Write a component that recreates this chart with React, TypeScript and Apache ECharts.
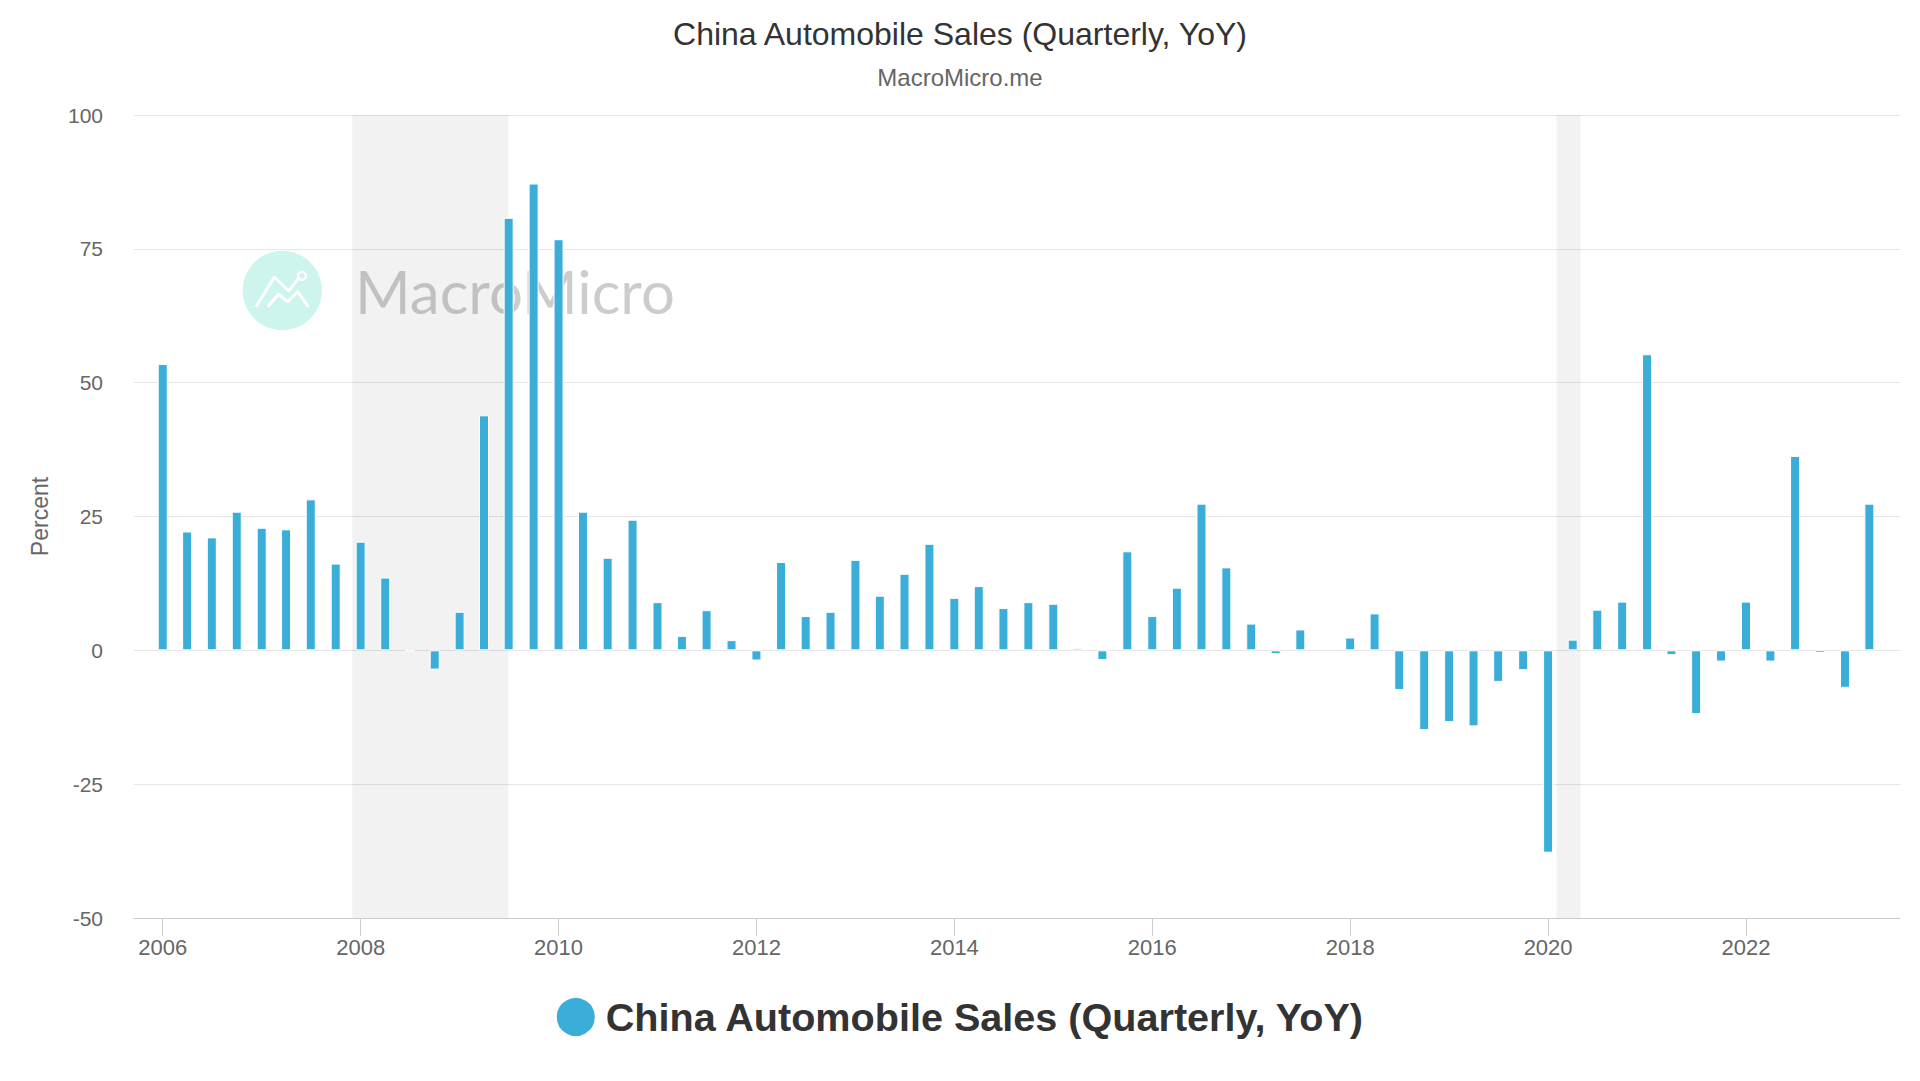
import React, { useEffect, useRef } from "react";
import * as echarts from "echarts";

const TITLE = "China Automobile Sales (Quarterly, YoY)";
const SUBTITLE = "MacroMicro.me";
const SERIES_NAME = "China Automobile Sales (Quarterly, YoY)";
const Y_AXIS_NAME = "Percent";
const WATERMARK = "MacroMicro";

const quarterYears = [2006, 2007, 2008, 2009, 2010, 2011, 2012, 2013, 2014, 2015, 2016, 2017, 2018, 2019, 2020, 2021, 2022, 2023];
const quarterStartMonths = [1, 4, 7, 10];

// YoY %, 2006 Q1 ... 2023 Q2
const yoyValues: (number | null)[] = [
  53.5, 22.2, 21.1, 25.9,
  22.9, 22.6, 28.2, 16.2,
  20.3, 13.6, -0.2, -3.6,
  7.2, 43.9, 80.8, 87.2,
  76.8, 25.9, 17.3, 24.4,
  9.0, 2.7, 7.5, 1.9,
  -1.9, 16.5, 6.4, 7.2,
  16.9, 10.2, 14.3, 19.9,
  9.8, 12.0, 7.9, 9.0,
  8.7, 0.4, -1.8, 18.5,
  6.4, 11.7, 27.4, 15.5,
  5.0, -0.7, 3.9, null,
  2.4, 6.9, -7.4, -14.9,
  -13.4, -14.2, -5.9, -3.7,
  -37.8, 2.0, 7.6, 9.1,
  55.3, -0.9, -11.9, -2.1,
  9.1, -2.1, 36.3, -0.5,
  -7.0, 27.4,
];

const recessionStarts = ["2007-12-01", "2020-02-01"];
const recessionEnds = ["2009-06-30", "2020-04-30"];

const xTickYears = [2006, 2008, 2010, 2012, 2014, 2016, 2018, 2020, 2022];
const xMinDate = "2005-09-17";
const xMaxDate = "2023-07-23";
const yMin = -50;
const yMax = 100;
const yInterval = 25;

const FONT = "'Liberation Sans', Arial, Helvetica, sans-serif";
const BAR_COLOR = "#3aaed8";

function toYearFrac(s: string): number {
  const [y, m, d] = s.split("-").map(Number);
  const t = Date.UTC(y, m - 1, d);
  const a = Date.UTC(y, 0, 1);
  const b = Date.UTC(y + 1, 0, 1);
  return y + (t - a) / (b - a);
}

function quarterDates(): string[] {
  const out: string[] = [];
  for (const y of quarterYears) {
    for (const m of quarterStartMonths) {
      out.push(`${y}-${String(m).padStart(2, "0")}-01`);
    }
  }
  return out.slice(0, yoyValues.length);
}

export default function App() {
  const ref = useRef<HTMLDivElement>(null);

  useEffect(() => {
    document.body.style.margin = "0";
    if (!ref.current) return;
    const chart = echarts.init(ref.current, null, { renderer: "svg" });
    const dates = quarterDates();
    const barData = dates.map((d, i) => [toYearFrac(d), yoyValues[i]]);

    const cx = 282.3;
    const cy = 290.5;

    chart.setOption({
      animation: false,
      backgroundColor: "#ffffff",
      title: {
        text: TITLE,
        subtext: SUBTITLE,
        left: "center",
        top: 13,
        itemGap: 15,
        textStyle: { fontFamily: FONT, fontSize: 32, fontWeight: "normal", color: "#333333" },
        subtextStyle: { fontFamily: FONT, fontSize: 24, color: "#666666" },
      },
      legend: {
        data: [SERIES_NAME],
        left: "center",
        top: 991,
        icon: "circle",
        itemWidth: 40,
        itemHeight: 40,
        textStyle: {
          fontFamily: FONT,
          fontSize: 39.6,
          fontWeight: "bold",
          color: "#333333",
          padding: [0, 0, 0, 5],
        },
      },
      grid: { left: 134, right: 20, top: 115, bottom: 163, containLabel: false },
      xAxis: {
        type: "value",
        min: toYearFrac(xMinDate),
        max: toYearFrac(xMaxDate),
        splitLine: { show: false },
        axisLine: { show: true, onZero: false, lineStyle: { color: "#cccccc", width: 1 } },
        axisTick: {
          show: true,
          customValues: xTickYears,
          length: 18,
          lineStyle: { color: "#cccccc", width: 1 },
        },
        axisLabel: {
          customValues: xTickYears,
          formatter: (v: number) => String(Math.round(v)),
          fontFamily: FONT,
          fontSize: 22,
          color: "#666666",
          margin: 18,
        },
      },
      yAxis: {
        type: "value",
        min: yMin,
        max: yMax,
        interval: yInterval,
        name: Y_AXIS_NAME,
        nameLocation: "middle",
        nameGap: 83,
        nameTextStyle: { fontFamily: FONT, fontSize: 23, color: "#666666" },
        axisLine: { show: false },
        axisTick: { show: false },
        axisLabel: {
          fontFamily: FONT,
          fontSize: 21,
          color: "#666666",
          margin: 31,
          padding: [5, 0, 0, 0],
        },
        splitLine: { lineStyle: { color: "#e6e6e6", width: 1 } },
      },
      graphic: [
        { type: "circle", z: 1, shape: { cx, cy, r: 39.7 }, style: { fill: "#cdf4ed" } },
        {
          type: "polyline",
          z: 1,
          shape: { points: [[256.7, 305.7], [274.3, 277], [288.7, 291], [298.7, 278.3]] },
          style: { stroke: "#ffffff", lineWidth: 3, fill: null, lineJoin: "round", lineCap: "round" },
        },
        {
          type: "polyline",
          z: 1,
          shape: { points: [[268.7, 305.7], [278.3, 294.3], [287.7, 301.7], [297.7, 291.7], [307.7, 306]] },
          style: { stroke: "#ffffff", lineWidth: 3, fill: null, lineJoin: "round", lineCap: "round" },
        },
        {
          type: "circle",
          z: 1,
          shape: { cx: 302, cy: 275.7, r: 4 },
          style: { stroke: "#ffffff", lineWidth: 2.5, fill: null },
        },
        {
          type: "text",
          z: 1,
          x: 355,
          y: 291,
          style: {
            text: WATERMARK,
            fontFamily: "Lato, 'Open Sans', sans-serif",
            fontSize: 60,
            fill: "rgba(0,0,0,0.2)",
            verticalAlign: "middle",
            align: "left",
          },
        },
      ],
      series: [
        {
          name: "recessions",
          type: "bar",
          data: [],
          z: 0,
          silent: true,
          markArea: {
            silent: true,
            itemStyle: { color: "rgba(0,0,0,0.05)" },
            data: recessionStarts.map((s, i) => [
              { xAxis: toYearFrac(s) },
              { xAxis: toYearFrac(recessionEnds[i]) },
            ]),
          },
        },
        {
          name: SERIES_NAME,
          type: "bar",
          data: barData,
          barWidth: 10,
          z: 3,
          itemStyle: { color: BAR_COLOR, borderColor: "#ffffff", borderWidth: 1 },
        },
      ],
    });

    return () => chart.dispose();
  }, []);

  return <div ref={ref} style={{ width: 1920, height: 1081 }} />;
}
